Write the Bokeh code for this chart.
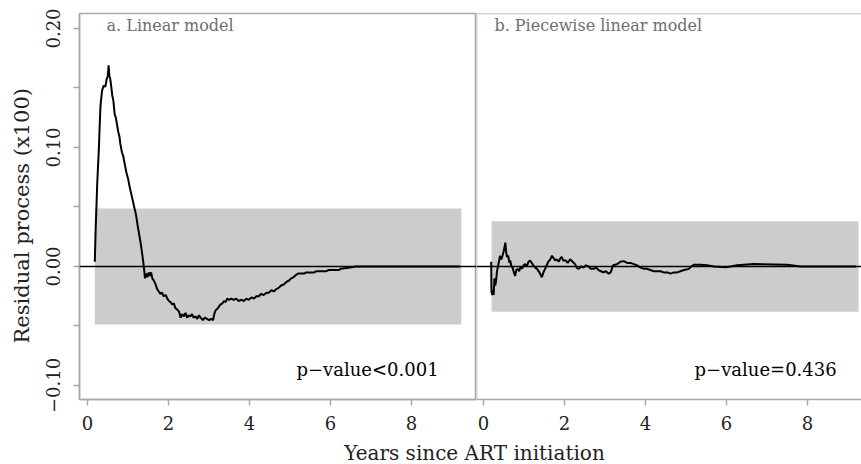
import math
from bokeh.plotting import figure
from bokeh.models import FixedTicker, Span, Label, Range1d
from bokeh.layouts import column, row
from bokeh.embed import file_html
from bokeh.resources import INLINE

# ---------------- data ----------------
lin_x = [0.18, 0.20, 0.24, 0.28, 0.30, 0.32, 0.36, 0.40, 0.44, 0.47, 0.50, 0.52, 0.54, 0.56,
         0.59, 0.61, 0.64, 0.67, 0.70, 0.73, 0.76, 0.79, 0.81, 0.85, 0.88, 0.92, 0.96, 1.00,
         1.04, 1.08, 1.12, 1.16, 1.20, 1.24, 1.28, 1.32, 1.36, 1.39, 1.42, 1.45, 1.48, 1.51,
         1.54, 1.57, 1.60, 1.64, 1.68, 1.72, 1.76, 1.80, 1.84, 1.88, 1.93, 1.97, 2.01, 2.05,
         2.09, 2.13, 2.17, 2.21, 2.26, 2.30, 2.34, 2.38, 2.42, 2.46, 2.50, 2.54, 2.58, 2.62,
         2.67, 2.71, 2.75, 2.79, 2.85, 2.90, 2.95, 3.00, 3.05, 3.10, 3.13, 3.16, 3.22, 3.28,
         3.33, 3.37, 3.41, 3.45, 3.50, 3.55, 3.61, 3.67, 3.73, 3.80, 3.86, 3.92, 3.98, 4.05,
         4.11, 4.17, 4.23, 4.29, 4.35, 4.42, 4.48, 4.54, 4.60, 4.66, 4.72, 4.78, 4.85, 4.91,
         4.97, 5.03, 5.09, 5.15, 5.20, 5.35, 5.40, 5.60, 5.65, 5.90, 5.95, 6.20, 6.25, 6.45,
         6.62, 9.20]
lin_y = [0.004, 0.030, 0.070, 0.099, 0.118, 0.135, 0.148, 0.152, 0.151, 0.157, 0.160, 0.169,
         0.160, 0.158, 0.150, 0.144, 0.139, 0.128, 0.125, 0.119, 0.113, 0.109, 0.103, 0.096,
         0.093, 0.086, 0.079, 0.074, 0.067, 0.061, 0.055, 0.049, 0.043, 0.034, 0.026, 0.018,
         0.008, 0.000, -0.010, -0.006, -0.009, -0.005, -0.008, -0.005, -0.010, -0.012, -0.015,
         -0.019, -0.021, -0.023, -0.022, -0.025, -0.024, -0.027, -0.029, -0.030, -0.032,
         -0.031, -0.035, -0.036, -0.038, -0.043, -0.040, -0.042, -0.039, -0.043, -0.041,
         -0.042, -0.040, -0.043, -0.042, -0.044, -0.041, -0.043, -0.045, -0.043, -0.044,
         -0.045, -0.044, -0.045, -0.040, -0.037, -0.035, -0.032, -0.031, -0.029, -0.030,
         -0.027, -0.028, -0.027, -0.028, -0.027, -0.029, -0.028, -0.029, -0.027, -0.028,
         -0.026, -0.027, -0.025, -0.025, -0.023, -0.024, -0.022, -0.022, -0.020, -0.021,
         -0.019, -0.018, -0.016, -0.015, -0.013, -0.012, -0.010, -0.009, -0.007, -0.006,
         -0.006, -0.005, -0.005, -0.004, -0.004, -0.003, -0.003, -0.002, -0.001, 0.000, 0.000]

pw_x = [0.19, 0.195, 0.20, 0.22, 0.24, 0.25, 0.27, 0.29, 0.31, 0.33, 0.35, 0.38, 0.41, 0.44,
        0.47, 0.50, 0.54, 0.56, 0.58, 0.61, 0.64, 0.66, 0.69, 0.72, 0.75, 0.78, 0.81, 0.85,
        0.88, 0.92, 0.95, 0.99, 1.03, 1.07, 1.11, 1.15, 1.19, 1.23, 1.28, 1.32, 1.38, 1.44,
        1.48, 1.52, 1.56, 1.60, 1.65, 1.69, 1.73, 1.77, 1.81, 1.86, 1.90, 1.93, 1.97, 2.03,
        2.08, 2.14, 2.20, 2.26, 2.30, 2.35, 2.41, 2.47, 2.53, 2.59, 2.65, 2.72, 2.78, 2.84,
        2.90, 2.96, 3.02, 3.09, 3.14, 3.20, 3.30, 3.38, 3.46, 3.55, 3.63, 3.71, 3.79, 3.88,
        3.96, 4.04, 4.12, 4.20, 4.29, 4.37, 4.45, 4.54, 4.62, 4.70, 4.78, 4.86, 4.95, 5.07,
        5.13, 5.19, 5.36, 5.52, 5.69, 5.98, 6.10, 6.26, 6.67, 7.50, 7.83, 9.20]
pw_y = [0.004, -0.018, -0.022, -0.024, -0.020, -0.024, -0.010, -0.016, -0.012, -0.005, -0.001,
        0.004, 0.009, 0.006, 0.009, 0.013, 0.020, 0.012, 0.008, 0.009, 0.003, 0.005, 0.000,
        -0.001, -0.005, -0.008, -0.003, -0.002, -0.004, 0.000, -0.002, 0.001, 0.002, 0.000,
        0.004, 0.005, 0.003, 0.001, -0.001, -0.002, -0.005, -0.009, -0.005, -0.002, 0.001,
        0.004, 0.006, 0.009, 0.007, 0.005, 0.006, 0.004, 0.007, 0.008, 0.005, 0.005, 0.003,
        0.006, 0.004, 0.002, -0.001, -0.002, 0.000, -0.001, 0.001, 0.000, -0.002, -0.002,
        -0.001, -0.003, -0.004, -0.005, -0.004, -0.006, -0.005, 0.001, 0.002, 0.004, 0.0045,
        0.003, 0.003, 0.002, 0.001, -0.001, -0.002, -0.002, -0.003, -0.004, -0.004, -0.004,
        -0.005, -0.005, -0.006, -0.005, -0.005, -0.004, -0.003, -0.002, 0.000, 0.0014, 0.0014,
        0.001, 0.000, -0.0006, 0.000, 0.001, 0.002, 0.0014, 0.000, 0.000]

lin_band_x = [0.18, 9.23]
lin_band_half = 0.0487
pw_band_x = [0.20, 9.26]
pw_band_half = 0.038

x_ticks = [0, 2, 4, 6, 8]
y_ticks = [-0.10, 0.0, 0.10, 0.20]
y_tick_labels = ["\u22120.10", "0.00", "0.10", "0.20"]
y_minor_ticks = [-0.05, 0.05, 0.15]

panel_titles = ["a. Linear model", "b. Piecewise linear model"]
pvalues = ["p\u2212value<0.001", "p\u2212value=0.436"]
y_label = "Residual process (x100)"
x_label = "Years since ART initiation"

# ---------------- style ----------------
FONT = "DejaVu Serif"
GRID = "#a8a8a8"
Y0, Y1 = -0.1118, 0.2126
L_X0, L_X1 = -0.198, 9.605
R_X0, R_X1 = -0.173, 9.333
PANEL_H = 439
LABEL_W = 40


def blank_fig(width, height):
    f = figure(width=width, height=height, x_range=Range1d(0, width),
               y_range=Range1d(0, height), output_backend="svg", toolbar_location=None,
               x_axis_location=None, y_axis_location=None,
               min_border_left=0, min_border_right=0, min_border_top=0, min_border_bottom=0)
    f.grid.visible = False
    f.outline_line_color = None
    return f


def base_fig(width, xr, left_border):
    p = figure(width=width, height=PANEL_H, x_range=Range1d(*xr), y_range=Range1d(Y0, Y1),
               output_backend="svg", toolbar_location=None,
               min_border_left=left_border, min_border_right=0,
               min_border_top=13, min_border_bottom=PANEL_H - 13 - 386,
               y_axis_location="left" if left_border else None)
    p.grid.visible = False
    xa = p.xaxis[0]
    xa.ticker = FixedTicker(ticks=x_ticks)
    xa.axis_line_color = GRID
    xa.axis_line_width = 1.5
    xa.major_tick_line_color = GRID
    xa.major_tick_line_width = 1.5
    xa.major_tick_out = 6
    xa.major_tick_in = 0
    xa.minor_tick_line_color = None
    xa.major_label_text_font = FONT
    xa.major_label_text_font_size = "18px"
    xa.major_label_text_color = "#222222"
    xa.major_label_standoff = 10
    return p


def add_panel(p, xs, ys, band_x, band_half, title, title_x, pval, pval_x):
    p.quad(left=band_x[0], right=band_x[1], bottom=-band_half, top=band_half,
           fill_color="#cccccc", line_color=None)
    p.add_layout(Span(location=0, dimension="width", line_color="black", line_width=1.6))
    p.line(xs, ys, line_color="black", line_width=2)
    p.add_layout(Label(x=title_x, y=0.2021, text=title, text_font=FONT,
                       text_font_size="16px", text_color="#6e6e6e",
                       text_baseline="middle", text_align="left"))
    p.add_layout(Label(x=pval_x, y=-0.0866, text=pval, text_font=FONT,
                       text_font_size="18px", text_color="black",
                       text_baseline="middle", text_align="right"))


# y-axis title strip
p0 = blank_fig(LABEL_W, PANEL_H)
p0.add_layout(Label(x=21, y=PANEL_H - 230, text=y_label, angle=math.pi / 2,
                    text_font=FONT, text_font_size="21px", text_color="#222222",
                    text_align="center", text_baseline="middle"))

# left panel
p1 = base_fig(476 - LABEL_W, (L_X0, L_X1), 79 - LABEL_W)
p1.outline_line_color = GRID
p1.outline_line_width = 1.5
ya = p1.yaxis[0]
ya.ticker = FixedTicker(ticks=y_ticks, minor_ticks=y_minor_ticks)
ya.major_label_overrides = {t: l for t, l in zip(y_ticks, y_tick_labels)}
ya.major_label_orientation = "vertical"
ya.axis_line_color = GRID
ya.axis_line_width = 1.5
ya.major_tick_line_color = GRID
ya.major_tick_line_width = 1.5
ya.minor_tick_line_color = GRID
ya.minor_tick_line_width = 1.5
ya.major_tick_out = 6
ya.major_tick_in = 0
ya.minor_tick_out = 6
ya.minor_tick_in = 0
ya.major_label_text_font = FONT
ya.major_label_text_font_size = "18px"
ya.major_label_text_color = "#222222"
ya.major_label_standoff = 13
add_panel(p1, lin_x, lin_y, lin_band_x, lin_band_half, panel_titles[0], 0.47,
          pvalues[0], 8.67)

# right panel
p2 = base_fig(385, (R_X0, R_X1), 0)
p2.outline_line_color = None
p2.add_layout(Span(location=Y1, dimension="width", line_color=GRID, line_width=1.5))
p2.add_layout(Span(location=R_X0, dimension="height", line_color=GRID, line_width=1.5))
add_panel(p2, pw_x, pw_y, pw_band_x, pw_band_half, panel_titles[1], 0.27,
          pvalues[1], 8.72)

# shared x-axis title strip
p3 = blank_fig(861, 464 - PANEL_H)
p3.add_layout(Label(x=474, y=12, text=x_label, text_font=FONT,
                    text_font_size="20px", text_color="#222222",
                    text_baseline="middle", text_align="center"))

layout = column(row(p0, p1, p2, spacing=0), p3, spacing=0)

open("out.html", "w").write(file_html(layout, INLINE))
